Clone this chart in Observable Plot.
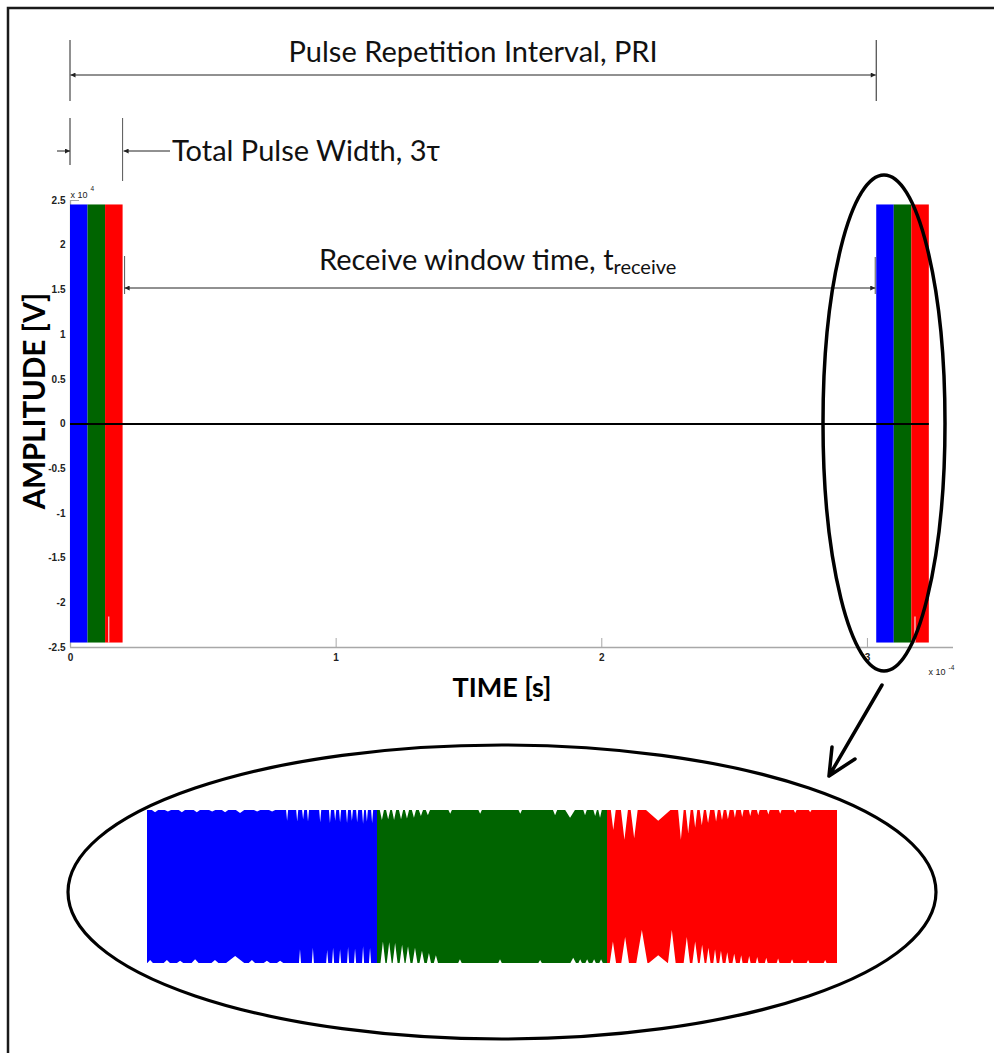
<!DOCTYPE html>
<html><head><meta charset="utf-8">
<script src="https://cdn.jsdelivr.net/npm/d3@7"></script>
<script src="https://cdn.jsdelivr.net/npm/@observablehq/plot@0.6"></script>
<style>
html,body{margin:0;padding:0;background:#fff;}
#wrap{position:relative;width:994px;height:1053px;overflow:hidden;background:#fff;}
#wrap > svg, #wrap > div{position:absolute;}
</style></head><body><div id="wrap"></div>
<script>
// ---------------- data ----------------
const pulseNames = ["Pulse 1", "Pulse 2", "Pulse 3"];
const pulseColors = ["#0000ff", "#006400", "#ff0000"];
const pulseOffsets = [0, 6.6e-6, 13.2e-6];      // s, start of each sub-pulse in a train
const pulseWidth = 6.6e-6;                      // tau, s
const trainStarts = [0, 3.035e-4];              // s, PRI = 3.035e-4
const pulseAmplitude = 2.45e4;                  // V
const xDomain = [0, 3.324e-4];
const yDomain = [-2.5e4, 2.5e4];
const xTicks = [0, 1e-4, 2e-4, 3e-4];
const xTickLabels = ["0", "1", "2", "3"];
const yTicks = [-2.5e4, -2e4, -1.5e4, -1e4, -0.5e4, 0, 0.5e4, 1e4, 1.5e4, 2e4, 2.5e4];
const yTickLabels = ["-2.5", "-2", "-1.5", "-1", "-0.5", "0", "0.5", "1", "1.5", "2", "2.5"];
const gapTime = 1.44e-5;        // thin white gap inside red pulse
const gapLevel = -2.16e4;

// zoomed pulse train: time in microseconds from train start,
// envelope value as a fraction of the amplitude (1 = full), notch half-width in microseconds
const blueTopNotchT = [0.23, 0.60, 1.00, 1.43, 1.87, 2.24, 2.67, 3.16, 3.59, 4.02, 4.31, 4.48, 4.62, 4.97, 5.25, 5.40, 5.54, 5.74, 5.88, 6.03, 6.20, 6.31, 6.46];
const blueTopNotchV = [0.97, 0.98, 0.97, 0.97, 0.98, 0.97, 0.96, 0.98, 0.98, 0.86, 0.85, 0.88, 0.85, 0.84, 0.83, 0.86, 0.84, 0.83, 0.86, 0.84, 0.82, 0.85, 0.83];
const blueTopNotchW = [0.09, 0.09, 0.09, 0.09, 0.09, 0.09, 0.12, 0.09, 0.09, 0.03, 0.03, 0.03, 0.03, 0.03, 0.03, 0.03, 0.03, 0.03, 0.03, 0.03, 0.03, 0.03, 0.03];
const blueBotNotchT = [0.09, 0.57, 0.95, 1.38, 1.95, 2.53, 3.01, 3.44, 3.82, 4.39, 4.76, 5.17, 5.34, 5.54, 5.77, 5.97, 6.20, 6.40];
const blueBotNotchV = [0.96, 0.96, 0.97, 0.95, 0.96, 0.91, 0.96, 0.97, 0.97, 0.82, 0.80, 0.83, 0.80, 0.82, 0.79, 0.81, 0.78, 0.80];
const blueBotNotchW = [0.08, 0.09, 0.09, 0.10, 0.10, 0.26, 0.09, 0.09, 0.09, 0.03, 0.03, 0.03, 0.03, 0.03, 0.03, 0.03, 0.03, 0.03];
const greenTopNotchT = [6.74, 6.92, 7.09, 7.29, 7.46, 7.66, 7.86, 8.06, 8.70, 9.56, 10.71, 11.71, 12.14, 12.57, 12.86, 13.00];
const greenTopNotchV = [0.87, 0.88, 0.87, 0.88, 0.89, 0.90, 0.92, 0.93, 0.95, 0.95, 0.95, 0.93, 0.90, 0.93, 0.92, 0.90];
const greenTopNotchW = [0.06, 0.06, 0.06, 0.06, 0.06, 0.06, 0.06, 0.06, 0.05, 0.05, 0.05, 0.06, 0.14, 0.05, 0.05, 0.05];
const greenBotNotchT = [6.77, 6.95, 7.12, 7.32, 7.49, 7.69, 7.89, 8.09, 8.29, 8.98, 10.13, 11.28, 12.23, 12.43, 12.63, 12.83, 13.03];
const greenBotNotchV = [0.72, 0.73, 0.74, 0.76, 0.78, 0.80, 0.84, 0.87, 0.90, 0.95, 0.95, 0.96, 0.93, 0.95, 0.95, 0.95, 0.95];
const greenBotNotchW = [0.07, 0.07, 0.07, 0.07, 0.07, 0.07, 0.07, 0.06, 0.06, 0.05, 0.05, 0.05, 0.08, 0.05, 0.05, 0.05, 0.05];
const redTopNotchT = [13.38, 13.70, 13.98, 14.67, 15.32, 15.53, 15.73, 15.92, 16.10, 16.33, 16.50, 16.67, 16.87, 17.08, 17.31, 17.54, 17.83, 18.17, 18.60, 19.03];
const redTopNotchV = [0.74, 0.61, 0.63, 0.86, 0.61, 0.70, 0.77, 0.80, 0.83, 0.85, 0.87, 0.88, 0.90, 0.91, 0.92, 0.93, 0.94, 0.95, 0.96, 0.97];
const redTopNotchW = [0.07, 0.10, 0.10, 0.35, 0.08, 0.07, 0.06, 0.06, 0.06, 0.05, 0.05, 0.05, 0.04, 0.04, 0.04, 0.04, 0.04, 0.04, 0.04, 0.04];
const redBotNotchT = [13.37, 13.72, 14.20, 14.67, 15.06, 15.49, 15.73, 15.93, 16.11, 16.30, 16.47, 16.65, 16.85, 17.05, 17.28, 17.51, 17.77, 18.11, 18.51, 18.97, 19.46];
const redBotNotchV = [0.72, 0.66, 0.57, 0.90, 0.57, 0.66, 0.72, 0.76, 0.80, 0.82, 0.84, 0.86, 0.88, 0.90, 0.91, 0.92, 0.93, 0.94, 0.95, 0.96, 0.96];
const redBotNotchW = [0.09, 0.11, 0.16, 0.27, 0.11, 0.09, 0.08, 0.07, 0.06, 0.05, 0.05, 0.05, 0.05, 0.04, 0.04, 0.04, 0.04, 0.04, 0.04, 0.04, 0.04];

// ---------------- tables ----------------
const rects = [];
trainStarts.forEach(t0 => pulseOffsets.forEach((o, i) => rects.push({
  name: pulseNames[i], x1: t0 + o, x2: t0 + o + pulseWidth, y1: -pulseAmplitude, y2: pulseAmplitude
})));
const zeroEnd = trainStarts[1] + 3 * pulseWidth;

const W = 994, H = 1053;
const wrap = document.getElementById("wrap");
const font = "Lato, 'Open Sans', sans-serif";

const main = Plot.plot({
  width: W, height: H,
  marginLeft: 70, marginRight: 41, marginTop: 200, marginBottom: 406,
  style: {fontFamily: "'Liberation Sans', Arial, sans-serif", fontSize: "10px", color: "#222", background: "transparent"},
  x: {domain: xDomain, axis: null},
  y: {domain: yDomain, axis: null},
  color: {domain: pulseNames, range: pulseColors},
  marks: [
    Plot.ruleY([yDomain[0]], {stroke: "#a8a8a8", strokeWidth: 1.3}),
    Plot.ruleX([xDomain[0]], {stroke: "#a8a8a8", strokeWidth: 1.3}),
    Plot.tickX(xTicks, {x: d => d, stroke: "#a8a8a8", insetTop: 438}),
    Plot.tickY(yTicks, {y: d => d, stroke: "#a8a8a8", insetRight: 874}),
    Plot.rect(rects, {x1: "x1", x2: "x2", y1: "y1", y2: "y2", fill: "name"}),
    Plot.ruleX(trainStarts, {x: d => d + gapTime, y1: -pulseAmplitude, y2: gapLevel, stroke: "#fff", strokeWidth: 1.2, strokeOpacity: 0.85}),
    Plot.ruleY([0], {x1: 0, x2: zeroEnd, stroke: "#000", strokeWidth: 2}),
    Plot.text(xTicks, {x: d => d, y: yDomain[0], text: (d, i) => xTickLabels[i], dy: 10, fill: "#222", fontWeight: "bold", fontSize: 10}),
    Plot.text(yTicks, {x: xDomain[0], y: d => d, text: (d, i) => yTickLabels[i], dx: -5, textAnchor: "end", fill: "#222", fontWeight: "bold", fontSize: 10}),
    Plot.text(["x 10"], {frameAnchor: "top-left", dy: -9, textAnchor: "start", fill: "#222", fontSize: 9}),
    Plot.text(["4"], {frameAnchor: "top-left", dx: 20, dy: -14, textAnchor: "start", fill: "#222", fontSize: 6.5}),
    Plot.text(["x 10"], {frameAnchor: "bottom-right", dx: -25, dy: 27, textAnchor: "start", fill: "#222", fontSize: 9}),
    Plot.text(["-4"], {frameAnchor: "bottom-right", dx: -5, dy: 22, textAnchor: "start", fill: "#222", fontSize: 6.5})
  ]
});
main.style.left = "0px"; main.style.top = "0px";
wrap.appendChild(main);

// ---- zoomed inset of one pulse train ----
function envelope(T, V, Wd, t0, t1) {
  const pts = [{t: t0, v: 1}];
  T.forEach((t, i) => {
    pts.push({t: t - Wd[i], v: 1}, {t, v: V[i]}, {t: t + Wd[i], v: 1});
  });
  pts.push({t: t1, v: 1});
  return pts.filter(p => p.t >= t0 && p.t <= t1).sort((a, b) => a.t - b.t);
}
const insetSets = [
  [pulseNames[0], envelope(blueTopNotchT, blueTopNotchV, blueTopNotchW, 0, 6.6), envelope(blueBotNotchT, blueBotNotchV, blueBotNotchW, 0, 6.6)],
  [pulseNames[1], envelope(greenTopNotchT, greenTopNotchV, greenTopNotchW, 6.6, 13.2), envelope(greenBotNotchT, greenBotNotchV, greenBotNotchW, 6.6, 13.2)],
  [pulseNames[2], envelope(redTopNotchT, redTopNotchV, redTopNotchW, 13.2, 19.8), envelope(redBotNotchT, redBotNotchV, redBotNotchW, 13.2, 19.8)]
];
const insetMarks = [];
insetSets.forEach(([name, top, bot]) => {
  insetMarks.push(Plot.areaY(top, {x: "t", y1: -0.3 * pulseAmplitude, y2: d => d.v * pulseAmplitude, fill: () => name}));
  insetMarks.push(Plot.areaY(bot, {x: "t", y1: d => -d.v * pulseAmplitude, y2: 0.3 * pulseAmplitude, fill: () => name}));
});
const inset = Plot.plot({
  width: 690, height: 153, margin: 0,
  x: {domain: [0, 19.8], axis: null},
  y: {domain: [-pulseAmplitude, pulseAmplitude], axis: null},
  color: {domain: pulseNames, range: pulseColors},
  style: {background: "transparent", overflow: "visible"},
  marks: insetMarks
});
const insetDiv = document.createElement("div");
insetDiv.style.left = "147px"; insetDiv.style.top = "810px";
insetDiv.appendChild(inset);
wrap.appendChild(insetDiv);

// ---- annotation overlay ----
const xs = main.scale("x").apply;
const ov = d3.select(wrap).append("svg").attr("width", W).attr("height", H)
  .style("left", "0px").style("top", "0px").style("pointer-events", "none");
const defs = ov.append("defs");
defs.append("marker").attr("id", "ah").attr("viewBox", "0 0 10 10").attr("refX", 10).attr("refY", 5)
  .attr("markerWidth", 7).attr("markerHeight", 5).attr("markerUnits", "userSpaceOnUse").attr("orient", "auto-start-reverse")
  .append("path").attr("d", "M0,0L10,5L0,10z").attr("fill", "#222");

const xA = xs(trainStarts[0]), xB = xs(trainStarts[1]), xE = xs(trainStarts[0] + 3 * pulseWidth);
const line = (x1, y1, x2, y2, o = {}) => {
  const l = ov.append("line").attr("x1", x1).attr("y1", y1).attr("x2", x2).attr("y2", y2)
    .attr("stroke", o.stroke || "#222").attr("stroke-width", o.w || 1);
  if (o.start) l.attr("marker-start", "url(#ah)");
  if (o.end) l.attr("marker-end", "url(#ah)");
  return l;
};
const label = (x, y, txt, size, anchor = "start", weight = "normal") =>
  ov.append("text").attr("x", x).attr("y", y).attr("text-anchor", anchor)
    .attr("font-family", font).attr("font-size", size).attr("font-weight", weight).attr("fill", "#111").text(txt);
// axis titles
label(502, 697, "TIME [s]", 27, "middle", "bold").attr("fill", "#000");
label(0, 0, "AMPLITUDE [V]", 29.5, "middle", "bold").attr("fill", "#000").attr("transform", "translate(45,401) rotate(-90)");
// PRI
line(xA, 40, xA, 101); line(xB, 40, xB, 101);
line(xA + 0.5, 75, xB - 0.5, 75, {start: true, end: true});
label((xA + xB) / 2, 62, "Pulse Repetition Interval, PRI", 29, "middle");
// Total pulse width
line(xA, 118, xA, 165); line(xE, 118, xE, 181, {stroke: "#555"});
line(57, 151, xA, 151, {end: true});
line(170, 151, xE + 1, 151, {end: true});
label(172, 161, "Total Pulse Width, 3\u03c4", 29);
// Receive window
line(xE + 2, 256, xE + 2, 294, {stroke: "#555"}); line(xB - 1, 257, xB - 1, 294, {stroke: "#555"});
line(xE + 2, 288, xB - 1, 288, {start: true, end: true});
const rt = label(319, 270, "", 29);
rt.append("tspan").text("Receive window time, t");
rt.append("tspan").attr("font-size", 20).attr("dy", 4).text("receive");
// ellipses and arrow
ov.append("ellipse").attr("cx", 884).attr("cy", 423).attr("rx", 61).attr("ry", 248)
  .attr("fill", "none").attr("stroke", "#000").attr("stroke-width", 3.5);
ov.append("ellipse").attr("cx", 502).attr("cy", 892).attr("rx", 434).attr("ry", 147)
  .attr("fill", "none").attr("stroke", "#000").attr("stroke-width", 3.2);
ov.append("path").attr("d", "M882,685L829,776M832,747L829,776L855,759")
  .attr("fill", "none").attr("stroke", "#000").attr("stroke-width", 3.5).attr("stroke-linecap", "round").attr("stroke-linejoin", "round");
// outer border
ov.append("path").attr("d", "M8,1060V8H1000").attr("fill", "none").attr("stroke", "#1a1a1a").attr("stroke-width", 2.5);
</script></body></html>
